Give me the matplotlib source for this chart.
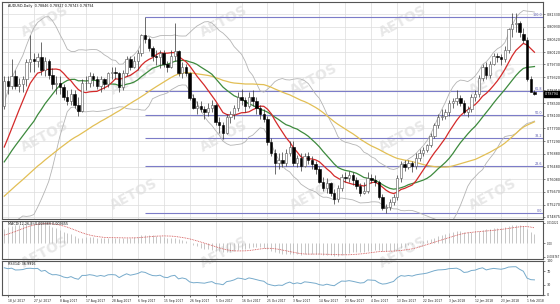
import numpy as np
import pandas as pd
import matplotlib
matplotlib.use("Agg")
import matplotlib.pyplot as plt
import matplotlib.transforms as mtrans

# ── Data: AUDUSD daily bars ──────────────────────────────────────────────
# closes before the visible window, only used to warm up the indicators
prior_closes = [
    0.7560, 0.7530, 0.7515, 0.7490, 0.7475, 0.7530, 0.7500, 0.7440, 0.7420, 0.7410,
    0.7380, 0.7345, 0.7370, 0.7380, 0.7390, 0.7400, 0.7410, 0.7440, 0.7430, 0.7460,
    0.7470, 0.7500, 0.7470, 0.7465, 0.7440, 0.7450, 0.7430, 0.7435, 0.7415, 0.7430,
    0.7470, 0.7500, 0.7545, 0.7535, 0.7535, 0.7540, 0.7570, 0.7555, 0.7600, 0.7615,
    0.7600, 0.7580, 0.7570, 0.7570, 0.7575, 0.7595, 0.7610, 0.7670, 0.7675, 0.7685,
    0.7590, 0.7615, 0.7620, 0.7640, 0.7605, 0.7610, 0.7640, 0.7695, 0.7715, 0.7815,
    0.7840,
]

opens = [
    0.7840, 0.7920, 0.7905, 0.7935, 0.7905, 0.7910, 0.7925, 0.7980, 0.7990, 0.7985,
    0.7995, 0.7955, 0.7985, 0.7940, 0.7910, 0.7915, 0.7900, 0.7870, 0.7855, 0.7880,
    0.7845, 0.7825, 0.7915, 0.7915, 0.7935, 0.7925, 0.7905, 0.7925, 0.7910, 0.7945,
    0.7950, 0.7945, 0.7900, 0.7945, 0.7990, 0.7965, 0.7985, 0.8010, 0.8065, 0.8055,
    0.8025, 0.8000, 0.7995, 0.8010, 0.7975, 0.7965, 0.8000, 0.8015, 0.7945, 0.7965,
    0.7945, 0.7865, 0.7835, 0.7840, 0.7830, 0.7820, 0.7835, 0.7845, 0.7790, 0.7780,
    0.7755, 0.7805, 0.7815, 0.7835, 0.7870, 0.7860, 0.7840, 0.7870, 0.7855, 0.7835,
    0.7815, 0.7800, 0.7725, 0.7690, 0.7660, 0.7670, 0.7660, 0.7690, 0.7710, 0.7660,
    0.7675, 0.7650, 0.7680, 0.7670, 0.7655, 0.7640, 0.7600, 0.7580, 0.7595, 0.7565,
    0.7545, 0.7580, 0.7615, 0.7610, 0.7620, 0.7605, 0.7585, 0.7565, 0.7570, 0.7610,
    0.7605, 0.7600, 0.7550, 0.7515, 0.7520, 0.7535, 0.7550, 0.7610, 0.7655, 0.7645,
    0.7660, 0.7650, 0.7675, 0.7690, 0.7700, 0.7715, 0.7745, 0.7780, 0.7805, 0.7810,
    0.7820, 0.7850, 0.7855, 0.7865, 0.7850, 0.7820, 0.7830, 0.7870, 0.7880, 0.7930,
    0.7965, 0.7940, 0.7975, 0.8000, 0.7995, 0.7990, 0.8020, 0.8085, 0.8100, 0.8105,
    0.8070, 0.8050, 0.7925, 0.78846,
]
highs = [
    0.7935, 0.7935, 0.7990, 0.7955, 0.7930, 0.7935, 0.7990, 0.8065, 0.8010, 0.8010,
    0.8045, 0.7995, 0.7990, 0.7960, 0.7935, 0.7935, 0.7910, 0.7890, 0.7895, 0.7890,
    0.7870, 0.7925, 0.7935, 0.7950, 0.7945, 0.7935, 0.7935, 0.7930, 0.7950, 0.7965,
    0.7965, 0.7950, 0.7955, 0.8000, 0.8000, 0.8000, 0.8020, 0.8070, 0.8125, 0.8060,
    0.8030, 0.8020, 0.8020, 0.8020, 0.7985, 0.8020, 0.8105, 0.8020, 0.7980, 0.7975,
    0.7950, 0.7880, 0.7855, 0.7855, 0.7840, 0.7850, 0.7860, 0.7850, 0.7805, 0.7790,
    0.7815, 0.7825, 0.7845, 0.7885, 0.7895, 0.7870, 0.7885, 0.7890, 0.7870, 0.7845,
    0.7830, 0.7810, 0.7740, 0.7705, 0.7690, 0.7695, 0.7705, 0.7730, 0.7730, 0.7685,
    0.7690, 0.7690, 0.7695, 0.7680, 0.7665, 0.7650, 0.7615, 0.7610, 0.7600, 0.7575,
    0.7590, 0.7625, 0.7630, 0.7635, 0.7630, 0.7615, 0.7595, 0.7600, 0.7630, 0.7625,
    0.7620, 0.7605, 0.7560, 0.7530, 0.7545, 0.7560, 0.7620, 0.7665, 0.7670, 0.7670,
    0.7665, 0.7690, 0.7705, 0.7710, 0.7720, 0.7755, 0.7785, 0.7815, 0.7830, 0.7830,
    0.7860, 0.7865, 0.7890, 0.7875, 0.7860, 0.7840, 0.7880, 0.7890, 0.7940, 0.7975,
    0.7980, 0.7985, 0.8010, 0.8010, 0.8005, 0.8030, 0.8090, 0.8135, 0.8135, 0.8110,
    0.8090, 0.8060, 0.7935, 0.78927,
]
lows = [
    0.7830, 0.7880, 0.7895, 0.7895, 0.7885, 0.7885, 0.7905, 0.7950, 0.7950, 0.7965,
    0.7940, 0.7935, 0.7925, 0.7895, 0.7880, 0.7880, 0.7860, 0.7845, 0.7845, 0.7835,
    0.7810, 0.7820, 0.7890, 0.7900, 0.7905, 0.7895, 0.7885, 0.7895, 0.7900, 0.7925,
    0.7925, 0.7885, 0.7890, 0.7935, 0.7955, 0.7960, 0.7955, 0.8000, 0.8040, 0.8015,
    0.7985, 0.7970, 0.7960, 0.7965, 0.7950, 0.7960, 0.7985, 0.7935, 0.7930, 0.7935,
    0.7860, 0.7830, 0.7815, 0.7820, 0.7800, 0.7810, 0.7820, 0.7780, 0.7755, 0.7735,
    0.7750, 0.7785, 0.7800, 0.7825, 0.7845, 0.7820, 0.7835, 0.7840, 0.7815, 0.7800,
    0.7790, 0.7715, 0.7680, 0.7625, 0.7640, 0.7645, 0.7650, 0.7680, 0.7650, 0.7645,
    0.7635, 0.7645, 0.7655, 0.7640, 0.7625, 0.7595, 0.7570, 0.7565, 0.7555, 0.7530,
    0.7535, 0.7570, 0.7600, 0.7600, 0.7590, 0.7575, 0.7555, 0.7560, 0.7565, 0.7595,
    0.7585, 0.7545, 0.7510, 0.7500, 0.7510, 0.7525, 0.7540, 0.7600, 0.7635, 0.7640,
    0.7630, 0.7640, 0.7665, 0.7680, 0.7695, 0.7710, 0.7740, 0.7770, 0.7795, 0.7800,
    0.7810, 0.7835, 0.7845, 0.7840, 0.7815, 0.7805, 0.7820, 0.7855, 0.7870, 0.7920,
    0.7925, 0.7930, 0.7970, 0.7980, 0.7970, 0.7980, 0.8010, 0.8060, 0.8075, 0.8060,
    0.8040, 0.7920, 0.7890, 0.78743,
]
closes = [
    0.7920, 0.7905, 0.7935, 0.7905, 0.7910, 0.7925, 0.7980, 0.7990, 0.7985, 0.7995,
    0.7955, 0.7985, 0.7940, 0.7910, 0.7915, 0.7900, 0.7870, 0.7855, 0.7880, 0.7845,
    0.7825, 0.7915, 0.7915, 0.7935, 0.7925, 0.7905, 0.7925, 0.7910, 0.7945, 0.7950,
    0.7945, 0.7900, 0.7945, 0.7990, 0.7965, 0.7985, 0.8010, 0.8065, 0.8055, 0.8025,
    0.8000, 0.7995, 0.8010, 0.7975, 0.7965, 0.8000, 0.8015, 0.7945, 0.7965, 0.7945,
    0.7865, 0.7835, 0.7840, 0.7830, 0.7820, 0.7835, 0.7845, 0.7790, 0.7780, 0.7755,
    0.7805, 0.7815, 0.7835, 0.7870, 0.7860, 0.7840, 0.7870, 0.7855, 0.7835, 0.7815,
    0.7800, 0.7725, 0.7690, 0.7660, 0.7670, 0.7660, 0.7690, 0.7710, 0.7660, 0.7675,
    0.7650, 0.7680, 0.7670, 0.7655, 0.7640, 0.7600, 0.7580, 0.7595, 0.7565, 0.7545,
    0.7580, 0.7615, 0.7610, 0.7620, 0.7605, 0.7585, 0.7565, 0.7570, 0.7610, 0.7605,
    0.7600, 0.7550, 0.7515, 0.7520, 0.7535, 0.7550, 0.7610, 0.7655, 0.7645, 0.7660,
    0.7650, 0.7675, 0.7690, 0.7700, 0.7715, 0.7745, 0.7780, 0.7805, 0.7810, 0.7820,
    0.7850, 0.7855, 0.7865, 0.7850, 0.7820, 0.7830, 0.7870, 0.7880, 0.7930, 0.7965,
    0.7940, 0.7975, 0.8000, 0.7995, 0.7990, 0.8020, 0.8085, 0.8100, 0.8105, 0.8075,
    0.8050, 0.7925, 0.7885, 0.78794,
]

date_ticks = [
    "18 Jul 2017", "27 Jul 2017", "8 Aug 2017", "17 Aug 2017", "28 Aug 2017",
    "6 Sep 2017", "15 Sep 2017", "26 Sep 2017", "5 Oct 2017", "16 Oct 2017",
    "25 Oct 2017", "3 Nov 2017", "14 Nov 2017", "23 Nov 2017", "4 Dec 2017",
    "13 Dec 2017", "22 Dec 2017", "3 Jan 2018", "12 Jan 2018", "23 Jan 2018",
    "1 Feb 2018",
]
price_ticks = [0.74875, 0.75270, 0.75670, 0.76080, 0.76480, 0.76880, 0.77290,
               0.77700, 0.78100, 0.78500, 0.78910, 0.79320, 0.79730, 0.80120,
               0.80520, 0.80930, 0.81330]
macd_ticks = [0.010221, 0.0, -0.006767]
macd_tick_labels = ["0.010221", "0.00", "-0.006767"]
rsi_ticks = [100, 70, 30, 0]

# Fibonacci retracement: Sep high -> Dec low
fib_start_bar = 38
fib_high, fib_low = 0.8125, 0.7501
fib_levels = [0.0, 23.6, 38.2, 50.0, 61.8, 100.0]

title_txt = "AUDUSD,Daily  0.78846 0.78927 0.78743 0.78794"
macd_txt = "MACD(12,26,9) 0.008889 0.009455"
rsi_txt = "RSI(14) 36.9916"

# ── Indicators ───────────────────────────────────────────────────────────
opens, highs, lows, closes = map(np.array, (opens, highs, lows, closes))
n_prior = len(prior_closes)
s = pd.Series(np.concatenate([prior_closes, closes]))
ma10 = s.rolling(10).mean().values[n_prior:]
ma20 = s.rolling(20).mean().values[n_prior:]
ma50 = s.rolling(50).mean().values[n_prior:]
sd20 = s.rolling(20).std(ddof=0).values[n_prior:]
bb_up, bb_lo = ma20 + 2 * sd20, ma20 - 2 * sd20

macd = s.ewm(span=12, adjust=False).mean() - s.ewm(span=26, adjust=False).mean()
signal = macd.rolling(9).mean()
macd, signal = macd.values[n_prior:], signal.values[n_prior:]

delta = s.diff()
gain = delta.clip(lower=0).ewm(alpha=1 / 14, adjust=False).mean()
loss = (-delta.clip(upper=0)).ewm(alpha=1 / 14, adjust=False).mean()
rsi = (100 - 100 / (1 + gain / loss)).values[n_prior:]

# ── Figure layout (pixel boxes, MT4 style) ───────────────────────────────
W, H = 560, 304
def box(x0, y0, x1, y1):
    return [x0 / W, 1 - y1 / H, (x1 - x0) / W, (y1 - y0) / H]

fig = plt.figure(figsize=(W / 100, H / 100), dpi=100, facecolor="white")
ax = fig.add_axes(box(2, 2, 543, 219))
ax_m = fig.add_axes(box(2, 221, 543, 259), sharex=ax)
ax_r = fig.add_axes(box(2, 261, 543, 295), sharex=ax)

FS = 2.4      # axis / legend text (tiny, like the downscaled MT4 screen)
FS_X = 2.2
GRID = "#dcdcdc"
idx = np.arange(len(closes))
tick_pos = [1 + 7 * k for k in range(len(date_ticks))]

for a in (ax, ax_m, ax_r):
    a.set_facecolor("none")
    for sp in a.spines.values():
        sp.set_color("#555555")
        sp.set_linewidth(0.8)
    a.yaxis.tick_right()
    a.tick_params(axis="y", labelsize=FS, length=1.5, width=0.4, pad=1.2, colors="#222222")
    a.tick_params(axis="x", length=0)
    for t in tick_pos:
        a.axvline(t, color=GRID, lw=0.5, zorder=0)

# watermark
for row, yy in enumerate([0.07, 0.26, 0.45, 0.64, 0.83]):
    for xx in np.arange(0.08, 0.95, 0.32):
        fig.text(xx + (0.16 if row % 2 else 0), 1 - yy, "AETOS", fontsize=10,
                 fontweight="bold", color="#e8e8e8", rotation=28,
                 ha="center", va="center", zorder=-1)

# ── Main panel ───────────────────────────────────────────────────────────
for p in price_ticks:
    ax.axhline(p, color=GRID, lw=0.5, zorder=0)

fib_prices = [fib_low + (fib_high - fib_low) * lv / 100 for lv in fib_levels]
ax.hlines(fib_prices, fib_start_bar, 146, color="#7c7cc8", lw=0.8, zorder=1)
for lv, fp in zip(fib_levels, fib_prices):
    ax.text(145.0, fp, f"{lv:.1f}", fontsize=FS, color="#5a5ab0",
            ha="right", va="bottom", zorder=5)

ax.plot(idx, bb_up, color="#b4b4b4", lw=0.6, zorder=2)
ax.plot(idx, bb_lo, color="#b4b4b4", lw=0.6, zorder=2)
ax.plot(idx, ma50, color="#e2bf55", lw=0.9, zorder=3)
ax.plot(idx, ma20, color="#3d8a3d", lw=0.9, zorder=3)
ax.plot(idx, ma10, color="#d42a2a", lw=0.9, zorder=3)

up = closes >= opens
ax.vlines(idx, lows, highs, color="#333333", lw=0.5, zorder=4)
ax.bar(idx[up], (closes - opens)[up], bottom=opens[up], width=0.65,
       color="white", edgecolor="#555555", lw=0.4, zorder=4.5)
ax.bar(idx[~up], (closes - opens)[~up], bottom=opens[~up], width=0.65,
       color="black", edgecolor="black", lw=0.4, zorder=4.5)

ax.set_ylim(0.74811, 0.81712)
ax.set_xlim(-0.6, 145.3)
ax.set_yticks(price_ticks)
ax.set_yticklabels([f"{p:.5f}" for p in price_ticks])
ax.tick_params(axis="x", labelbottom=False)
ax.text(0.012, 0.992, title_txt, transform=ax.transAxes, fontsize=FS,
        ha="left", va="top", color="#111111")

trans = mtrans.blended_transform_factory(ax.transAxes, ax.transData)
ax.text(1.004, closes[-1], f"{closes[-1]:.5f}", transform=trans, fontsize=FS,
        color="white", ha="left", va="center", zorder=6,
        bbox=dict(boxstyle="square,pad=0.3", fc="black", ec="black"))

# ── MACD panel ───────────────────────────────────────────────────────────
ax_m.vlines(idx, 0, macd, color="#bdbdbd", lw=0.6, zorder=2)
ax_m.plot(idx, signal, color="#d04848", lw=0.6, ls=(0, (1, 1)), zorder=3)
ax_m.set_ylim(-0.0078, 0.0112)
ax_m.set_yticks(macd_ticks)
ax_m.set_yticklabels(macd_tick_labels)
ax_m.tick_params(axis="y", labelsize=1.9)
ax_m.tick_params(axis="x", labelbottom=False)
ax_m.text(0.012, 0.97, macd_txt, transform=ax_m.transAxes, fontsize=FS,
          ha="left", va="top", color="#111111")

# ── RSI panel ────────────────────────────────────────────────────────────
ax_r.plot(idx, rsi, color="#76aacb", lw=0.7, zorder=3)
ax_r.set_ylim(0, 100)
ax_r.set_yticks(rsi_ticks)
ax_r.set_yticklabels([str(v) for v in rsi_ticks])
ax_r.text(0.012, 0.96, rsi_txt, transform=ax_r.transAxes, fontsize=FS,
          ha="left", va="top", color="#111111")
ax_r.set_xticks(tick_pos)
ax_r.set_xticklabels(date_ticks, fontsize=FS_X, ha="left", color="#222222")
ax_r.tick_params(axis="x", length=1.5, width=0.4, pad=1.2)

fig.savefig("out.png", dpi=100, facecolor="white")
